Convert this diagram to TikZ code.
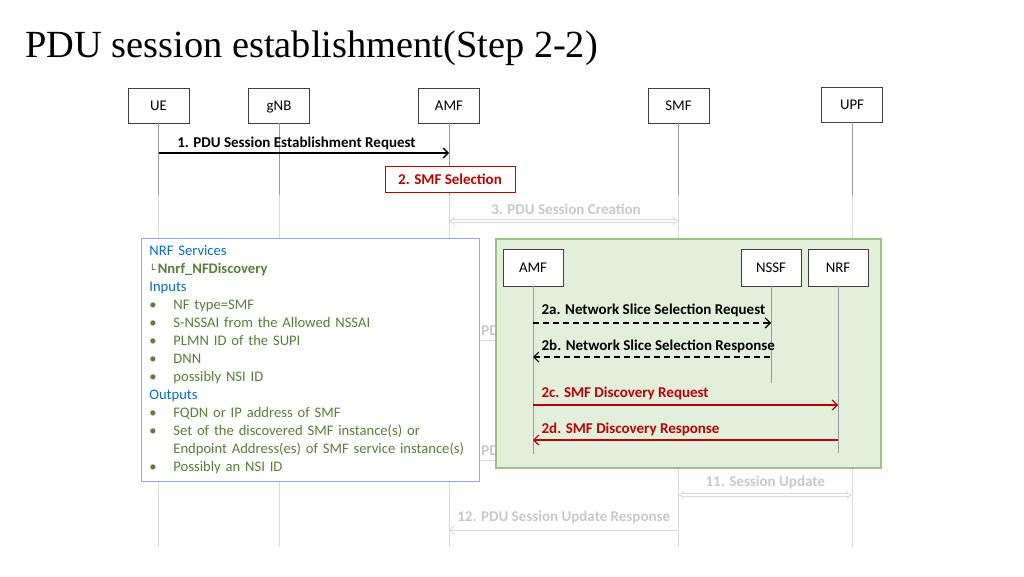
\documentclass[tikz,border=0pt]{standalone}
\usepackage{fontspec}
\setmainfont{Carlito}
\newfontfamily\titlefont{Liberation Serif}
\newfontfamily\symfont{DejaVu Sans}
\usetikzlibrary{arrows.meta,positioning}
\definecolor{boxline}{HTML}{404040}
\definecolor{lifegray}{HTML}{9A9A9A}
\definecolor{fadeline}{HTML}{DADADA}
\definecolor{fadetext}{HTML}{C8C8C8}
\definecolor{selred}{HTML}{C00000}
\definecolor{nrfblue}{HTML}{0070C0}
\definecolor{inpgreen}{HTML}{548235}
\definecolor{infoblue}{HTML}{8FAADC}
\definecolor{slicefill}{HTML}{E2EFDA}
\definecolor{sliceedge}{HTML}{9BC47F}
\newcommand{\nrfbullet}{\makebox[24pt][l]{\textbullet}}

\begin{document}
\begin{tikzpicture}[x=1pt,y=-1pt,
  >={Straight Barb[length=5pt,width=10pt]},
  entity/.style={draw=boxline, fill=white, line width=0.9pt, minimum width=61pt, minimum height=35pt, inner sep=0pt, text height=9.5pt, text depth=0pt, font=\fontsize{14.8}{17}\selectfont},
  msg/.style={inner sep=0pt, font=\bfseries\fontsize{15}{17}\selectfont},
  lifeline/.style={draw=lifegray, line width=0.9pt},
  faded/.style={draw=fadeline, line width=1pt},
  twoway/.style={draw=fadeline, double=white, double distance=2.2pt, line width=0.8pt, Implies-Implies}]
\useasboundingbox (0,0) rectangle (1024,576);
\node [anchor=base west, inner sep=0pt, font=\titlefont\fontsize{38.4}{44}\selectfont] (title) at (25,57.5) {PDU session establishment(Step 2-2)};

\node [entity] (ue) at (158.5,105.5) {UE};
\node [entity] (gnb) at (279,105.5) {gNB};
\node [entity] (amf) at (449,105.5) {AMF};
\node [entity] (smf) at (678.5,105.5) {SMF};
\node [entity] (upf) at (852,104.5) {UPF};

\coordinate (fadetop) at (0,195);
\coordinate (bottom) at (0,547);
\foreach \n in {ue,gnb,amf,smf,upf}{
  \draw [lifeline] (\n.south) -- (\n |- fadetop);
  \draw [faded] (\n |- fadetop) -- (\n |- bottom);
}

\coordinate (r1) at (0,153);
\coordinate (r3) at (0,221);
\coordinate (rh1) at (0,340);
\coordinate (rh2) at (0,460);
\coordinate (r11) at (0,495);
\coordinate (r12) at (0,530);

\draw [->, line width=1.3pt] (ue |- r1) -- (amf |- r1)
  node [msg, pos=0.475, anchor=base, yshift=6pt] {1. PDU Session Establishment Request};
\node [msg, draw=selred, fill=white, text=selred, line width=0.9pt, minimum width=130pt, minimum height=26pt] (smfsel) at (450,179) {2. SMF Selection};
\draw [twoway] (amf |- r3) -- (smf |- r3)
  node [msg, text=fadetext, pos=0.51, anchor=base, yshift=7pt] {3. PDU Session Creation};
\draw [faded] (amf |- rh1) -- (smf |- rh1)
  node [msg, text=fadetext, pos=0.139, anchor=base west, yshift=4.5pt] {PDU};
\draw [faded] (amf |- rh2) -- (smf |- rh2)
  node [msg, text=fadetext, pos=0.139, anchor=base west, yshift=4.5pt] {PDU};
\draw [twoway] (smf |- r11) -- (upf |- r11)
  node [msg, text=fadetext, midway, anchor=base, yshift=9pt] {11. Session Update};
\draw [faded, ->] (smf |- r12) -- (amf |- r12)
  node [msg, text=fadetext, midway, anchor=base, yshift=8.5pt] {12. PDU Session Update Response};

\node [draw=infoblue, fill=white, line width=0.8pt, anchor=north west, minimum width=338pt, minimum height=243pt,
  text width=322pt, inner xsep=8pt, inner ysep=0pt, align=left, text=inpgreen,
  font=\fontsize{14.6}{18}\selectfont] (nrfinfo) at (141,238) {%
  {\color{nrfblue}NRF Services}\\
  {\color{black!70}\symfont\fontsize{10}{10}\selectfont └}\,{\bfseries Nnrf\_NFDiscovery}\\
  {\color{nrfblue}Inputs}\\
  \nrfbullet NF type=SMF\\
  \nrfbullet S-NSSAI from the Allowed NSSAI\\
  \nrfbullet PLMN ID of the SUPI\\
  \nrfbullet DNN\\
  \nrfbullet possibly NSI ID\\
  {\color{nrfblue}Outputs}\\
  \nrfbullet FQDN or IP address of SMF\\
  \nrfbullet Set of the discovered SMF instance(s) or\\
  \mbox{\hspace*{24pt}Endpoint Address(es) of SMF service instance(s)}\\
  \nrfbullet Possibly an NSI ID};

\node [draw=sliceedge, fill=slicefill, line width=1.5pt, anchor=north west, minimum width=385pt, minimum height=229pt, inner sep=0pt] (slicebox) at (495,238) {};
\node [entity, minimum width=60pt, minimum height=37pt] (amfin) at (533,267.5) {AMF};
\node [entity, minimum width=60pt, minimum height=37pt] (nssf) at (771,267.5) {NSSF};
\node [entity, minimum width=60pt, minimum height=37pt] (nrf) at (838,267.5) {NRF};

\coordinate (r2a) at (0,323);
\coordinate (r2b) at (0,357);
\coordinate (r2c) at (0,405);
\coordinate (r2d) at (0,440);
\draw [lifeline] (amfin.south) -- (amfin |- 0,454);
\draw [lifeline] (nssf.south) -- (nssf |- 0,383);
\draw [lifeline] (nrf.south) -- (nrf |- 0,453);

\draw [->, dashed, dash pattern=on 6pt off 4pt, line width=1.2pt] (amfin |- r2a) -- (nssf |- r2a)
  node [msg, pos=0, anchor=base west, xshift=8pt, yshift=8.5pt] {2a. Network Slice Selection Request};
\draw [<-, dashed, dash pattern=on 6pt off 4pt, line width=1.2pt] (amfin |- r2b) -- (nssf |- r2b)
  node [msg, pos=0, anchor=base west, xshift=8pt, yshift=6.5pt] {2b. Network Slice Selection Response};
\draw [->, draw=selred, line width=1.2pt] (amfin |- r2c) -- (nrf |- r2c)
  node [msg, text=selred, pos=0, anchor=base west, xshift=8pt, yshift=7.5pt] {2c. SMF Discovery Request};
\draw [<-, draw=selred, line width=1.2pt] (amfin |- r2d) -- (nrf |- r2d)
  node [msg, text=selred, pos=0, anchor=base west, xshift=8pt, yshift=6.5pt] {2d. SMF Discovery Response};
\end{tikzpicture}
\end{document}
